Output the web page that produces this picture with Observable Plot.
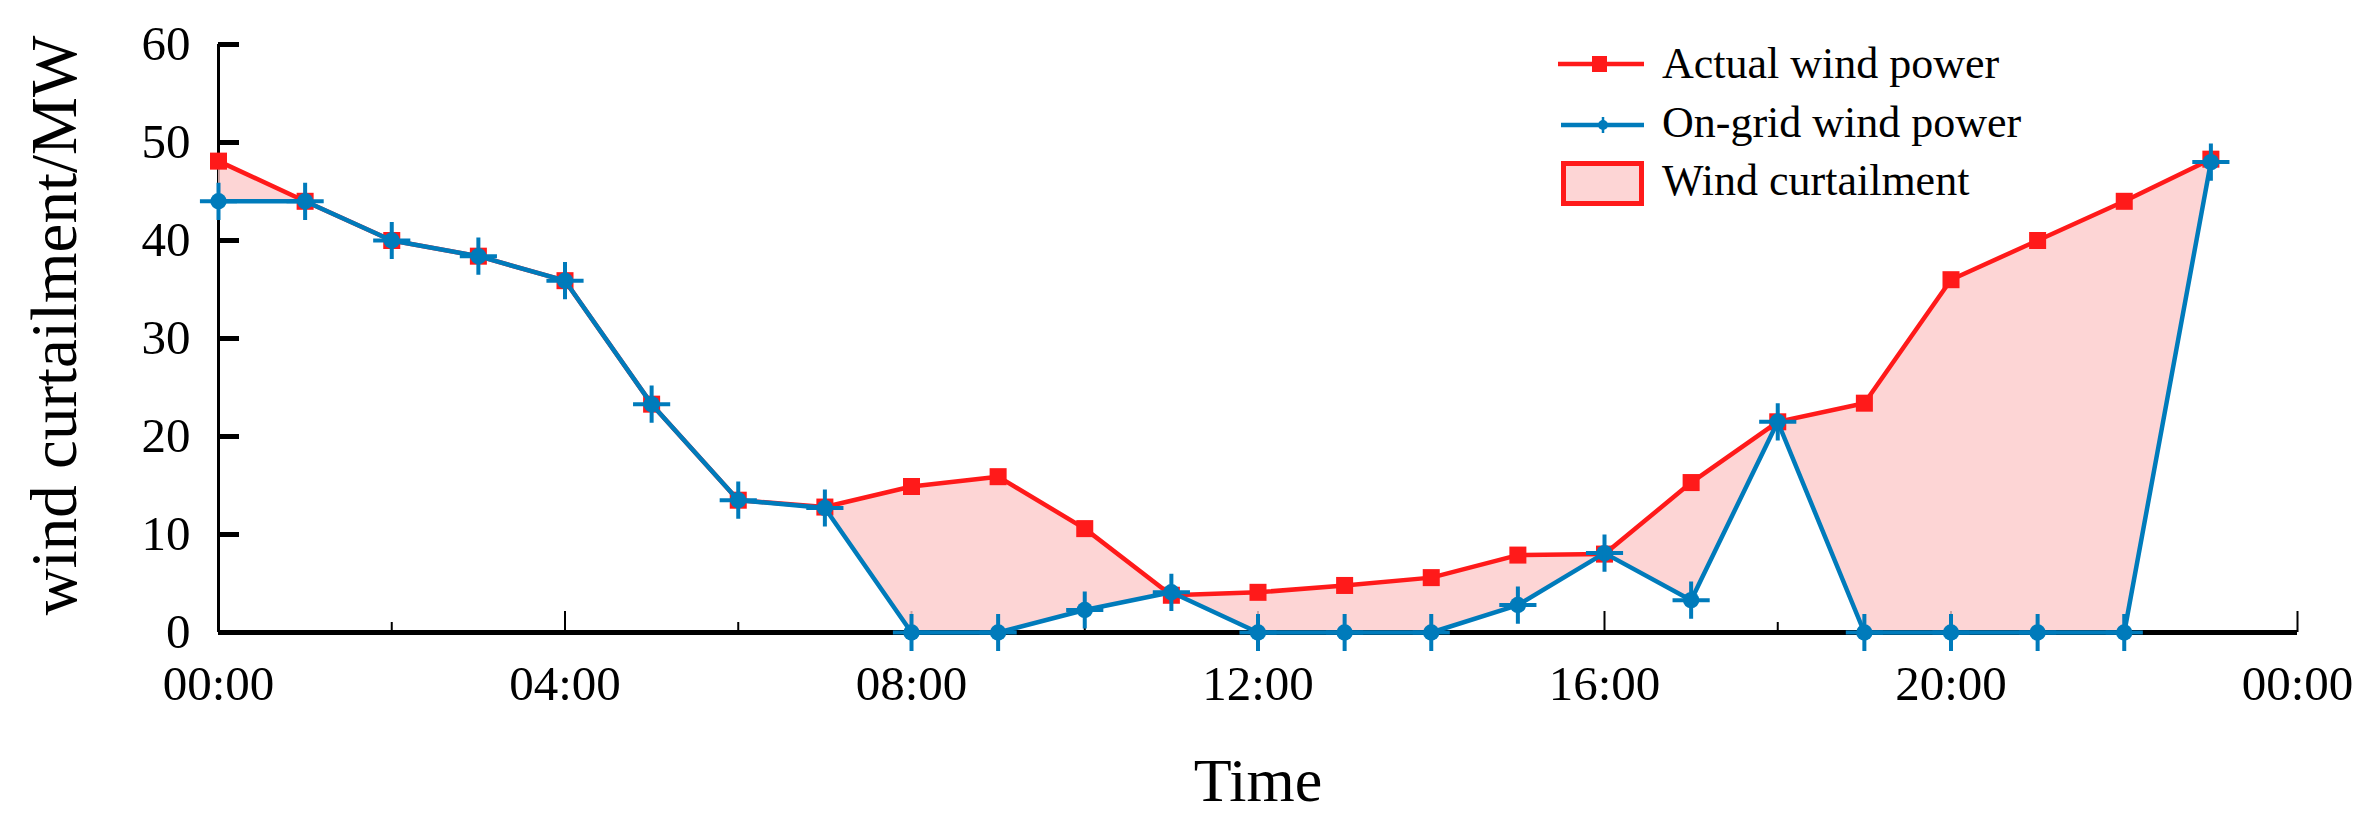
<!DOCTYPE html>
<html><head><meta charset="utf-8">
<script src="https://cdn.jsdelivr.net/npm/d3@7"></script>
<script src="https://cdn.jsdelivr.net/npm/@observablehq/plot@0.6"></script>
<style>
html,body{margin:0;padding:0;background:#fff;overflow:hidden}
#wrap{position:relative;width:2373px;height:835px}
</style></head><body><div id="wrap"></div>
<script>
const hours = [0,1,2,3,4,5,6,7,8,9,10,11,12,13,14,15,16,17,18,19,20,21,22,23];
const actualPower = [48.1,44,40,38.4,35.9,23.3,13.5,12.8,14.9,15.9,10.6,3.8,4.1,4.8,5.6,7.9,8.0,15.3,21.5,23.4,36.0,40.0,44.0,48.3];
const onGridPower = [44,44,40,38.4,35.9,23.3,13.5,12.7,0,0,2.3,4.1,0,0,0,2.8,8.1,3.3,21.5,0,0,0,0,48];
const yTicks = [0,10,20,30,40,50,60];
const xMajorTicks = [0,4,8,12,16,20,24];
const xTickLabels = ["00:00","04:00","08:00","12:00","16:00","20:00","00:00"];
const xMinorTicks = [2,6,10,14,18,22];
const legendLabels = ["Actual wind power","On-grid wind power","Wind curtailment"];
const xTitle = "Time";
const yTitle = "wind curtailment/MW";

const RED = "#ff1a1a", BLUE = "#007bbb", PINK = "#fdd5d5";
const font = "'Liberation Serif','Times New Roman',serif";
const data = hours.map((h, i) => ({hour: h, actual: actualPower[i], ongrid: onGridPower[i]}));

const chart = Plot.plot({
  width: 2373, height: 835,
  marginLeft: 218, marginRight: 76, marginTop: 44, marginBottom: 203,
  style: {fontFamily: font, background: "#fff", overflow: "visible"},
  x: {domain: [0, 24]},
  y: {domain: [0, 60]},
  marks: [
    Plot.axisX(xMinorTicks, {tickSize: 10, dy: -10, strokeWidth: 2, fill: "none", label: null, tickFormat: () => ""}),
    Plot.axisX(xMajorTicks.slice(1), {tickSize: 21, dy: -21, strokeWidth: 2, fill: "none", label: null, tickFormat: () => ""}),
    Plot.axisY(yTicks.slice(1), {tickSize: 21, dx: 21, strokeWidth: 5, fill: "none", label: null, tickFormat: () => ""}),
    Plot.ruleX([0], {y1: 0, y2: 60, strokeWidth: 3, stroke: "#000"}),
    Plot.areaY(data, {x: "hour", y1: "ongrid", y2: "actual", fill: "#fccaca", fillOpacity: 0.8}),
    Plot.ruleY([0], {x1: 0, x2: 24, strokeWidth: 5, stroke: "#000"}),
    Plot.axisX(xMajorTicks, {tickSize: 0, tickPadding: 33, fontSize: 49, label: null,
      tickFormat: d => xTickLabels[xMajorTicks.indexOf(d)]}),
    Plot.axisY(yTicks, {tickSize: 0, tickPadding: 28, fontSize: 49, label: null}),
    Plot.text([xTitle], {text: d => d, frameAnchor: "bottom", dy: 168, lineAnchor: "bottom", fontSize: 62}),
    Plot.text([yTitle], {text: d => d, frameAnchor: "left", textAnchor: "middle", dx: -143, dy: -13, rotate: -90, lineAnchor: "bottom", fontSize: 65}),
    Plot.line(data, {x: "hour", y: "actual", stroke: RED, strokeWidth: 4.5}),
    Plot.dot(data, {x: "hour", y: "actual", symbol: "square", r: 9.6, fill: RED}),
    Plot.line(data, {x: "hour", y: "ongrid", stroke: BLUE, strokeWidth: 4.5}),
    Plot.dot(data, {x: "hour", y: "ongrid", r: 8.2, fill: BLUE}),
    Plot.dot(data, {x: "hour", y: "ongrid", symbol: "plus", r: 12, stroke: BLUE, strokeWidth: 4})
  ]
});
const wrap = document.getElementById("wrap");
wrap.appendChild(chart);

// legend overlay
const leg = d3.create("svg").attr("width", 2373).attr("height", 835)
  .style("position", "absolute").style("left", "0px").style("top", "0px")
  .style("pointer-events", "none").attr("font-family", font);
// row 1
leg.append("line").attr("x1", 1558).attr("x2", 1644).attr("y1", 64).attr("y2", 64).attr("stroke", RED).attr("stroke-width", 4.5);
leg.append("rect").attr("x", 1592).attr("y", 56).attr("width", 15).attr("height", 16).attr("fill", RED);
leg.append("text").attr("x", 1662).attr("y", 78).attr("font-size", 44).text(legendLabels[0]);
// row 2
leg.append("line").attr("x1", 1561).attr("x2", 1644).attr("y1", 125).attr("y2", 125).attr("stroke", BLUE).attr("stroke-width", 4.5);
leg.append("circle").attr("cx", 1603).attr("cy", 125).attr("r", 5).attr("fill", BLUE);
leg.append("path").attr("d", "M1603,117V133M1596,125H1610").attr("stroke", BLUE).attr("stroke-width", 2.5);
leg.append("text").attr("x", 1662).attr("y", 137).attr("font-size", 44).text(legendLabels[1]);
// row 3
leg.append("rect").attr("x", 1563.5).attr("y", 163.5).attr("width", 78).attr("height", 40)
  .attr("fill", PINK).attr("stroke", RED).attr("stroke-width", 5);
leg.append("text").attr("x", 1662).attr("y", 195).attr("font-size", 44).text(legendLabels[2]);
wrap.appendChild(leg.node());
</script>
</body></html>
